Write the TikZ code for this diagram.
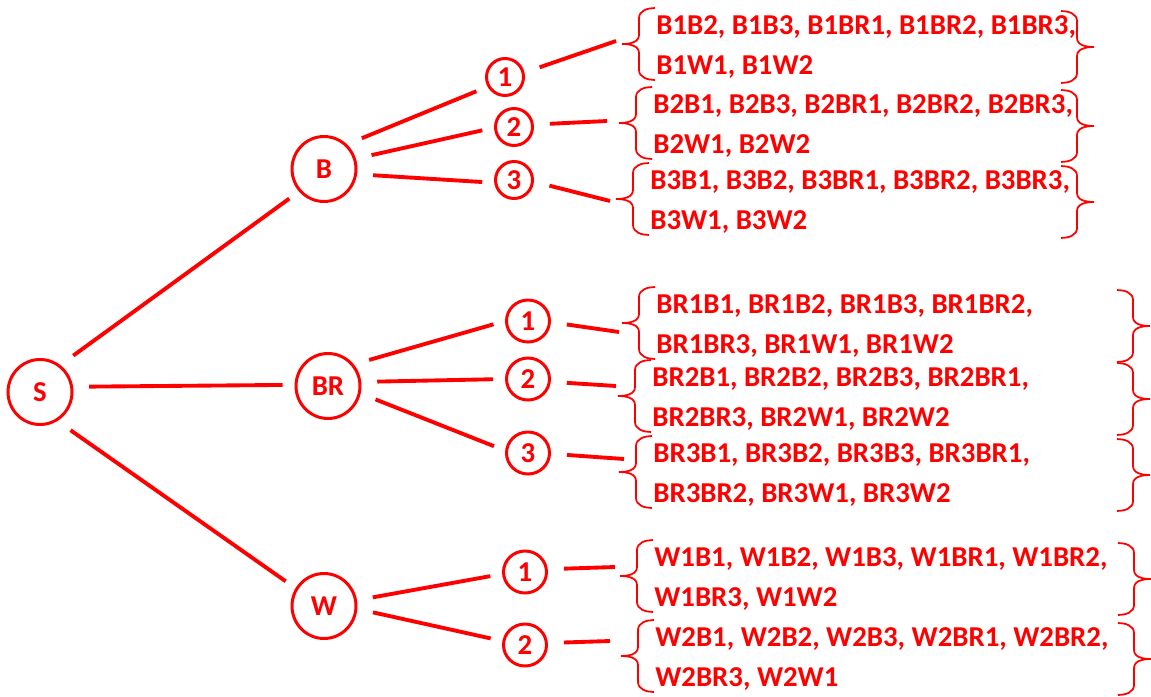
\documentclass[tikz,border=0pt]{standalone}
\usepackage{fontspec}
\setmainfont{Carlito}
\usetikzlibrary{shapes}

\begin{document}
\begin{tikzpicture}
[
x=0.02cm, y=0.02cm,
every node/.style={text=red, font=\bfseries\fontsize{16.4}{22.8}\selectfont},
state/.style={ellipse, draw=red, line width=1.7pt, inner sep=0pt, minimum width=12.8mm, minimum height=13mm},
branch/.style={ellipse, draw=red, line width=1.7pt, inner sep=0pt, minimum width=8.6mm, minimum height=8.4mm},
outcome/.style={align=left, anchor=west, inner xsep=0pt},
link/.style={draw=red, line width=2.2pt, shorten <=3.2mm, shorten >=2.4mm},
tie/.style={link, shorten >=0pt}
]
\tikzset{
lbrace/.pic={\draw[red, line width=1pt] (16,36) to[out=180,in=90] (0,26) -- (0,9) to[out=-90,in=0] (-17,0) coordinate (-tip) to[out=0,in=90] (0,-9) -- (0,-26) to[out=-90,in=180] (16,-36);},
rbrace/.pic={\draw[red, line width=1pt] (-16,36) to[out=0,in=90] (0,26) -- (0,9) to[out=-90,in=180] (17,0) to[out=180,in=90] (0,-9) -- (0,-26) to[out=-90,in=0] (-16,-36);}
}
\useasboundingbox (0,0) rectangle (1151,-696);

\node[state] (s) at (40,-392) {S};
\node[state] (b) at (324,-169) {B};
\node[state] (br) at (328,-386) {BR};
\node[state] (w) at (324,-606) {W};

\node[branch, minimum size=7.4mm] (b1) at (505,-77) {1};
\node[branch, minimum size=7.4mm] (b2) at (514,-127) {2};
\node[branch, minimum size=7.4mm] (b3) at (514,-180) {3};
\node[branch] (br1) at (528,-321) {1};
\node[branch] (br2) at (528,-379) {2};
\node[branch] (br3) at (528,-453) {3};
\node[branch] (w1) at (525,-572) {1};
\node[branch] (w2) at (525,-645) {2};

\node[outcome] (b1set) at (656,-47) {B1B2, B1B3, B1BR1, B1BR2, B1BR3,\\B1W1, B1W2};
\node[outcome] (b2set) at (653,-126) {B2B1, B2B3, B2BR1, B2BR2, B2BR3,\\B2W1, B2W2};
\node[outcome] (b3set) at (650,-202) {B3B1, B3B2, B3BR1, B3BR2, B3BR3,\\B3W1, B3W2};
\node[outcome] (br1set) at (656,-326) {BR1B1, BR1B2, BR1B3, BR1BR2,\\BR1BR3, BR1W1, BR1W2};
\node[outcome] (br2set) at (652,-399) {BR2B1, BR2B2, BR2B3, BR2BR1,\\BR2BR3, BR2W1, BR2W2};
\node[outcome] (br3set) at (653,-475) {BR3B1, BR3B2, BR3B3, BR3BR1,\\BR3BR2, BR3W1, BR3W2};
\node[outcome] (w1set) at (654,-579) {W1B1, W1B2, W1B3, W1BR1, W1BR2,\\W1BR3, W1W2};
\node[outcome] (w2set) at (655,-659) {W2B1, W2B2, W2B3, W2BR1, W2BR2,\\W2BR3, W2W1};

\coordinate (bedge) at (1077,0);
\coordinate (bredge) at (1133,0);
\coordinate (wedge) at (1134,0);

\pic (b1) at ([xshift=-3.4mm, yshift=0.6mm] b1set.west) {lbrace};
\pic (b2) at ([xshift=-3.4mm, yshift=0.6mm] b2set.west) {lbrace};
\pic (b3) at ([xshift=-3.4mm, yshift=0.6mm] b3set.west) {lbrace};
\pic (br1) at ([xshift=-3.4mm, yshift=0.6mm] br1set.west) {lbrace};
\pic (br2) at ([xshift=-3.4mm, yshift=0.6mm] br2set.west) {lbrace};
\pic (br3) at ([xshift=-3.4mm, yshift=0.6mm] br3set.west) {lbrace};
\pic (w1) at ([xshift=-3.4mm, yshift=0.6mm] w1set.west) {lbrace};
\pic (w2) at ([xshift=-3.4mm, yshift=0.6mm] w2set.west) {lbrace};

\pic at (b1set.west -| bedge) {rbrace};
\pic at (b2set.west -| bedge) {rbrace};
\pic at (b3set.west -| bedge) {rbrace};
\pic at (br1set.west -| bredge) {rbrace};
\pic at (br2set.west -| bredge) {rbrace};
\pic at (br3set.west -| bredge) {rbrace};
\pic at (w1set.west -| wedge) {rbrace};
\pic at (w2set.west -| wedge) {rbrace};

\path[link]
(s.53)	edge	(b.222)
(s.9)	edge	(br.178)
(s.301)	edge	(w.148)
(b.47)	edge	(b1.209)
(b.18)	edge	(b2.182)
(b.351)	edge	(b3.188)
(br.40)	edge	(br1.180)
(br.7)	edge	(br2.180)
(br.347)	edge	(br3.174)
(w.10)	edge	(w1.185)
(w.355)	edge	(w2.170);

\path[tie]
(b1.13)	edge	([xshift=-1.2mm, yshift=0.6mm] b1-tip)
(b2.7)	edge	([xshift=-2.4mm, yshift=0.4mm] b2-tip)
(b3.355)	edge	([xshift=-1.2mm, yshift=-0.4mm] b3-tip)
(br1.357)	edge	([xshift=-0.6mm, yshift=-1.8mm] br1-tip)
(br2.353)	edge	([xshift=-0.4mm, yshift=2mm] br2-tip)
(br3.358)	edge	([xshift=1mm, yshift=2.6mm] br3-tip)
(w1.7)	edge	([xshift=-1mm, yshift=1.8mm] w1-tip)
(w2.5)	edge	([xshift=-2.2mm, yshift=3mm] w2-tip);
\end{tikzpicture}
\end{document}
